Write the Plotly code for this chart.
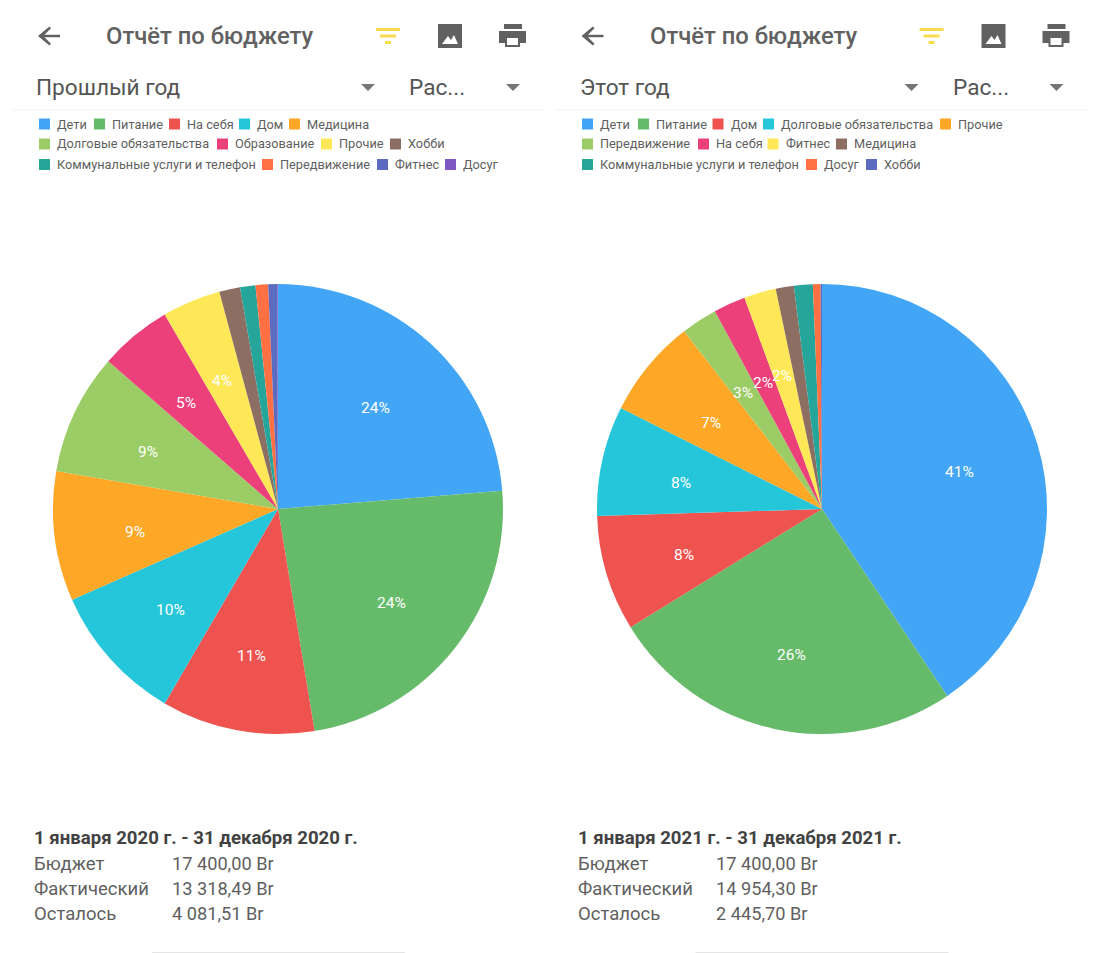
import math
import plotly.graph_objects as go

W, H = 1100, 953

# ---- data ----
labels_2020 = ["Дети", "Питание", "На себя", "Дом", "Медицина", "Долговые обязательства", "Образование",
               "Прочие", "Хобби", "Коммунальные услуги и телефон", "Передвижение", "Фитнес", "Досуг"]
values_2020 = [23.7, 23.7, 11.0, 10.0, 9.3, 8.7, 5.2, 4.2, 1.5, 1.1, 0.9, 0.65, 0.05]

labels_2021 = ["Дети", "Питание", "Дом", "Долговые обязательства", "Прочие", "Передвижение", "На себя",
               "Фитнес", "Медицина", "Коммунальные услуги и телефон", "Досуг", "Хобби"]
values_2021 = [40.6, 25.6, 8.3, 7.9, 7.1, 2.6, 2.3, 2.3, 1.3, 1.35, 0.55, 0.1]

palette = ["#42a5f5", "#66bb6a", "#ef5350", "#26c6da", "#ffa726", "#9ccc65", "#ec407a",
           "#ffe857", "#8d6e63", "#26a69a", "#ff7043", "#5c6bc0", "#7e57c2"]

period_2020 = "1 января 2020 г. - 31 декабря 2020 г."
period_2021 = "1 января 2021 г. - 31 декабря 2021 г."
summary_names = ["Бюджет", "Фактический", "Осталось"]
summary_2020 = ["17 400,00 Br", "13 318,49 Br", "4 081,51 Br"]
summary_2021 = ["17 400,00 Br", "14 954,30 Br", "2 445,70 Br"]

# ---- layout of the two panels, in page pixels ----
FONT = "Roboto"
R = 225
CY = 509
LABEL_R = 144
LABEL_DY = 5
MIN_LABEL = 2.0
legend_text_x_2020 = [[57, 112, 187, 257, 307], [57, 235, 339, 408], [57, 280, 395, 463]]
legend_text_x_2021 = [[600, 656, 730.5, 781, 958], [600, 716, 785.5, 854], [600, 824, 884]]
legend_rows_y = [124, 144, 164.5]


def px(x):
    return x / W


def py(y):
    return 1 - y / H


def poly(points):
    return "M" + " L".join(f"{px(x):.5f},{py(y):.5f}" for x, y in points) + " Z"


shapes, annotations = [], []


def text(x, y, s, size, color="#5f5f5f", weight=400, anchor="left"):
    tx = x - 1 if anchor == "left" else x
    annotations.append(dict(x=px(tx), y=py(y), xref="paper", yref="paper", text=s, showarrow=False,
                            xanchor=anchor, yanchor="middle", align=anchor, borderpad=0,
                            font=dict(family=FONT, size=size, color=color, weight=weight)))


def fill(path, color):
    shapes.append(dict(type="path", path=path, xref="paper", yref="paper",
                       fillcolor=color, line=dict(width=0)))


def rect(x0, y0, x1, y1, color):
    shapes.append(dict(type="rect", x0=px(x0), x1=px(x1), y0=py(y1), y1=py(y0), xref="paper", yref="paper",
                       fillcolor=color, line=dict(width=0), layer="above"))


def panel(off, cx, labels, values, legend_x, heading, period, summary):
    # header
    ink = "#616161"
    fill(poly([(off + 60, 34.7), (off + 44.5, 34.7), (off + 51, 28.2), (off + 49.4, 26.6), (off + 38, 36),
               (off + 49.4, 45.4), (off + 51, 43.8), (off + 44.5, 37.3), (off + 60, 37.3)]), ink)
    text(off + 106, 36, "Отчёт по бюджету", 23.8, ink, 500)
    rect(off + 376, 28, off + 400, 31, "#f9dc4e")
    rect(off + 380, 34.5, off + 396, 37.5, "#f9dc4e")
    rect(off + 385, 41, off + 391, 44, "#f9dc4e")
    rect(off + 438, 24, off + 462, 48, ink)
    fill(poly([(off + 442, 44), (off + 448, 36), (off + 451, 40), (off + 454, 35), (off + 458, 44)]), "#ffffff")
    rect(off + 504, 24, off + 522, 29, ink)
    rect(off + 499, 31, off + 526, 43, ink)
    rect(off + 505, 38, off + 520, 47, ink)
    rect(off + 507, 38, off + 518, 45, "#ffffff")
    # selectors
    text(off + 36, 88, heading, 22.6, "#555555")
    text(off + 409, 88, "Рас...", 22.6, "#555555")
    for ax in (off + 368, off + 513):
        fill(poly([(ax - 7, 84), (ax + 7, 84), (ax, 91)]), "#757575")
    rect(off + 12, 109.5, off + 545, 110.5, "#f2f2f2")
    # legend
    i = 0
    for row, y in zip(legend_x, legend_rows_y):
        for tx in row:
            rect(tx - 18, y - 5.5, tx - 7, y + 5.5, palette[i])
            text(tx, y, labels[i], 12.75, "#5f5f5f")
            i += 1
    # percent labels, placed from the slice values
    total = sum(values)
    run = 0
    for v in values:
        share = 100 * v / total
        mid = 2 * math.pi * (run + v / 2) / total
        run += v
        if share >= MIN_LABEL:
            text(cx + LABEL_R * math.sin(mid), CY + LABEL_DY - LABEL_R * math.cos(mid), f"{round(share)}%", 15.5,
                 "#ffffff", anchor="center")
    # summary
    text(off + 34, 838, period, 18.6, "#424242", 700)
    for name, val, y in zip(summary_names, summary, (863.5, 888.5, 913.5)):
        text(off + 34, y, name, 18.5, "#5f5f5f")
        text(off + 172, y, val, 18.2, "#5f5f5f")
    rect(off + 152, 952, off + 405, 953, "#e4e4e4")


def pie(cx, labels, values):
    return go.Pie(labels=labels, values=values, sort=False, direction="clockwise", rotation=0,
                  textinfo="none", showlegend=False, marker=dict(colors=palette[:len(values)], line=dict(width=0)),
                  domain=dict(x=[px(cx - R), px(cx + R)], y=[py(CY + R), py(CY - R)]))


panel(0, 278, labels_2020, values_2020, legend_text_x_2020, "Прошлый год", period_2020, summary_2020)
panel(543.5, 822, labels_2021, values_2021, legend_text_x_2021, "Этот год", period_2021, summary_2021)

fig = go.Figure([pie(278, labels_2020, values_2020), pie(822, labels_2021, values_2021)])
fig.update_layout(width=W, height=H, margin=dict(l=0, r=0, t=0, b=0), autosize=False,
                  paper_bgcolor="#ffffff", plot_bgcolor="#ffffff", showlegend=False,
                  shapes=shapes, annotations=annotations, font=dict(family=FONT))
fig.write_html("out.html", config=dict(displayModeBar=False),
               post_script="document.body.style.margin='0';document.documentElement.style.overflow='hidden';")
